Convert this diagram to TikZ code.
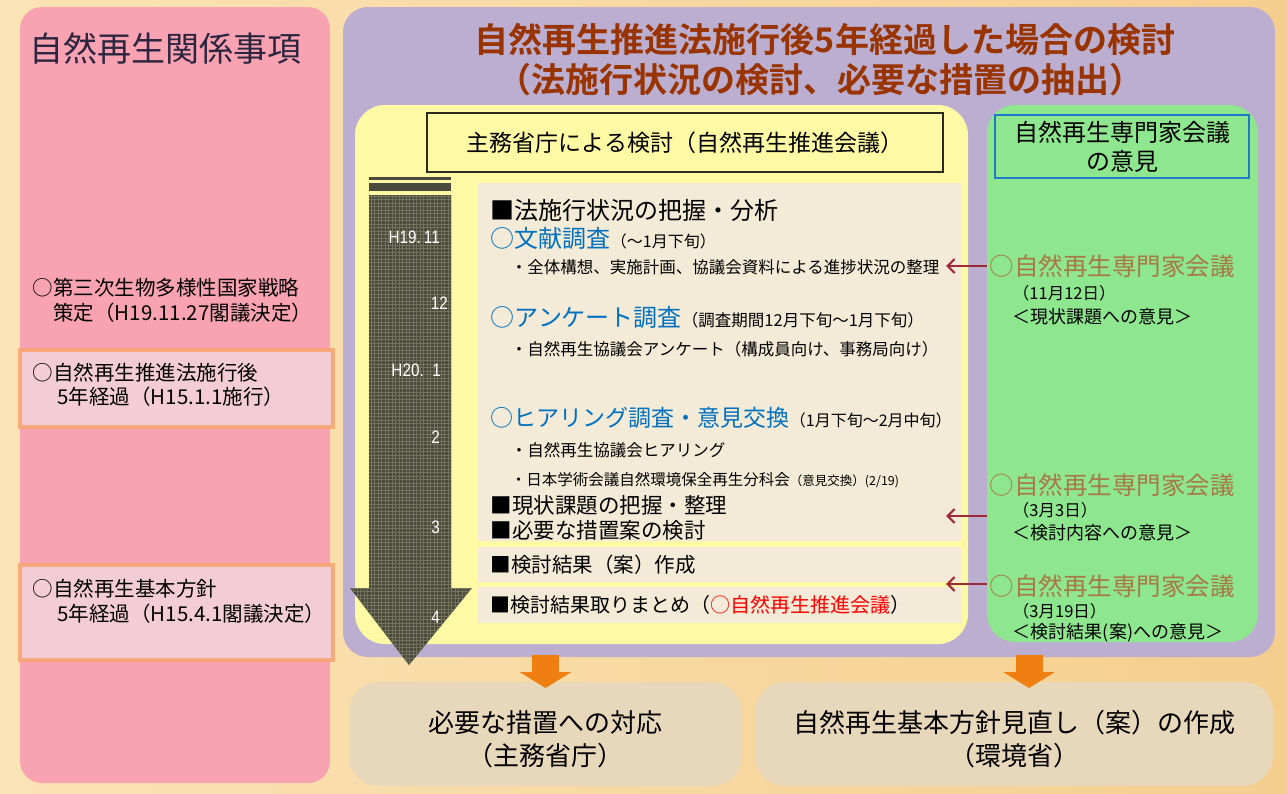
\documentclass[tikz,border=0pt]{standalone}
\usepackage{fontspec}
\setmainfont{Noto Sans CJK JP}[BoldFont={Noto Sans CJK JP Bold}]
\newfontfamily\numfont{Liberation Sans}[FakeStretch=0.85]
\usetikzlibrary{arrows.meta}

\definecolor{bgL}{HTML}{FAE3B5}
\definecolor{bgR}{HTML}{F5CE8E}
\definecolor{pinkP}{HTML}{F9A3B2}
\definecolor{pinkB}{HTML}{F3CCD5}
\definecolor{glow}{HTML}{F8A068}
\definecolor{purpleP}{HTML}{BBAED0}
\definecolor{yellowP}{HTML}{FDF9A4}
\definecolor{beigeB}{HTML}{F3EBD7}
\definecolor{greenP}{HTML}{8EE68E}
\definecolor{resB}{HTML}{E7D7BB}
\definecolor{titleC}{HTML}{993300}
\definecolor{navyT}{HTML}{2B2540}
\definecolor{blueT}{HTML}{0070C0}
\definecolor{tanT}{HTML}{A87848}
\definecolor{fbred}{HTML}{A02838}
\definecolor{orangeA}{HTML}{EF7F10}
\definecolor{darkA}{HTML}{4A4A3C}
\definecolor{gridA}{HTML}{74745E}
\definecolor{hdrline}{HTML}{2A2A20}
\definecolor{blueL}{HTML}{1E7AC8}

\newcommand{\fs}[1]{\fontsize{#1}{#1}\selectfont}
\newcommand{\fsl}[2]{\fontsize{#1}{#2}\selectfont}

\begin{document}
\begin{tikzpicture}[x=1pt,y=1pt,yscale=-1,xscale=1,
    box/.style={inner sep=0pt, outer sep=0pt, anchor=north west},
    txt/.style={anchor=west, inner sep=0.75pt, align=left},
    month/.style={anchor=east, inner sep=0pt, text=white, font=\numfont\fs{18}},
    fb/.style={draw=fbred, line width=2.2pt, -{Straight Barb[length=7pt,width=14pt]}},
    flow/.style={draw=orangeA, line width=27pt, -{Triangle[length=16pt,width=51pt]}}]

        %Shape: Background
        \shade [left color=bgL, right color=bgR] (0,0) rectangle (1287,793);
        \useasboundingbox (0,0) rectangle (1287,793);

        %Shape: Rounded Rect (left column)
        \node [box, fill=pinkP, rounded corners=22pt, minimum width=310pt, minimum height=776pt] (rel) at (20,7) {};
        %Shape: Rectangle
        \node [box, fill=pinkB, draw=glow, draw opacity=0.8, line width=3.5pt, minimum width=313pt, minimum height=77pt] (law) at (20,350) {};
        %Shape: Rectangle
        \node [box, fill=pinkB, draw=glow, draw opacity=0.8, line width=3.5pt, minimum width=313pt, minimum height=95pt] (policy) at (20,565) {};

        %Shape: Rounded Rect (review)
        \node [box, fill=purpleP, rounded corners=25pt, minimum width=932pt, minimum height=650pt] (review) at (343,7) {};
        %Shape: Rounded Rect (ministries)
        \node [box, fill=yellowP, rounded corners=30pt, minimum width=613pt, minimum height=539pt] (min) at (355,105) {};
        %Shape: Rectangle
        \node [box, fill=yellowP, draw=hdrline, line width=1.5pt, minimum width=516pt, minimum height=59pt] (minhd) at (427,113) {};
        %Shape: Rounded Rect (experts)
        \node [box, fill=greenP, rounded corners=28pt, minimum width=271pt, minimum height=537pt] (exp) at (987,105) {};
        %Shape: Rectangle
        \node [box, draw=blueL, line width=1.5pt, minimum width=254pt, minimum height=63pt] (exphd) at (995,115) {};

        %Shape: Rectangle (steps)
        \node [box, fill=beigeB, minimum width=483pt, minimum height=358pt] (stepA) at (478,183) {};
        \node [box, fill=beigeB, minimum width=483pt, minimum height=35pt] (stepB) at (478,547) {};
        \node [box, fill=beigeB, minimum width=483pt, minimum height=36pt] (stepC) at (478,587) {};

        %Shape: Rounded Rect (results)
        \node [box, fill=resB, rounded corners=30pt, minimum width=393pt, minimum height=104pt] (res1) at (349,682) {};
        \node [box, fill=resB, rounded corners=30pt, minimum width=518pt, minimum height=104pt] (res2) at (755,682) {};

        %Shape: Timeline Arrow
        \fill [darkA] (369,177) rectangle (451,180);
        \fill [darkA] (369,183) rectangle (451,191);
        \begin{scope}
        \clip (369,195) -- (451,195) -- (451,588) -- (472,588) -- (409,665) -- (350,588) -- (369,588) -- cycle;
        \fill [darkA] (340,190) rectangle (480,670);
        \draw [gridA, line width=0.4pt, step=3.5] (340,190) grid (480,670);
        \end{scope}

        % Text Node
        \draw (29,48) node [txt, text=navyT, font=\fs{34}] (reltl) {自然再生関係事項};
        % Text Node
        \draw (32,300) node [txt, font=\fsl{20.5}{25}] (strat) {○第三次生物多様性国家戦略\\\hspace*{1em}策定（H19.11.27閣議決定）};
        % Text Node
        \draw (32,385) node [txt, font=\fsl{20.5}{24}] (lawtx) {○自然再生推進法施行後\\\hspace*{1.2em}5年経過（H15.1.1施行）};
        % Text Node
        \draw (32,601) node [txt, font=\fsl{20.5}{25}] (poltx) {○自然再生基本方針\\\hspace*{1.2em}5年経過（H15.4.1閣議決定）};

        % Text Node
        \draw (825,40) node [inner sep=0pt, text=titleC, font=\fs{34}\bfseries] (title1) {自然再生推進法施行後5年経過した場合の検討};
        % Text Node
        \draw (820,80) node [inner sep=0pt, text=titleC, font=\fs{34}\bfseries] (title2) {（法施行状況の検討、必要な措置の抽出）};
        % Text Node
        \draw (minhd.center) node [inner sep=0pt, font=\fs{23}] (minhdtx) {主務省庁による検討（自然再生推進会議）};
        % Text Node
        \draw (exphd.center) node [inner sep=0pt, align=center, font=\fsl{24}{29}] (exphdtx) {自然再生専門家会議\\の意見};

        % Text Node
        \draw (490,210) node [txt] (s1) {\fs{24}■法施行状況の把握・分析};
        \draw (490,238) node [txt] (lit) {\fs{24}\textcolor{blueT}{○文献調査}\fs{16}（〜1月下旬）};
        \draw (510,267) node [txt] (lit1) {\fs{16.5}・全体構想、実施計画、協議会資料による進捗状況の整理};
        \draw (490,317) node [txt] (enq) {\fs{24}\textcolor{blueT}{○アンケート調査}\fs{16.5}（調査期間12月下旬〜1月下旬）};
        \draw (510,349) node [txt] (enq1) {\fs{16.5}・自然再生協議会アンケート（構成員向け、事務局向け）};
        \draw (490,418) node [txt] (hear) {\fs{23}\textcolor{blueT}{○ヒアリング調査・意見交換}\fs{16}（1月下旬〜2月中旬）};
        \draw (510,450) node [txt] (hear1) {\fs{16.5}・自然再生協議会ヒアリング};
        \draw (510,480) node [txt] (hear2) {\fs{15.5}・日本学術会議自然環境保全再生分科会\fs{12.5}（意見交換）(2/19)};
        \draw (490,505) node [txt] (s2) {\fs{21.5}■現状課題の把握・整理};
        \draw (490,530) node [txt] (s3) {\fs{21.5}■必要な措置案の検討};
        \draw (490,565) node [txt] (s4) {\fs{20.5}■検討結果（案）作成};
        \draw (490,605) node [txt] (s5) {\fs{20}■検討結果取りまとめ（\textcolor{red}{○自然再生推進会議}）};

        % Text Node
        \draw (440,237) node [month] (m1) {H19.\,11};
        \draw (448,303) node [month] (m2) {12};
        \draw (441,370) node [month] (m3) {H20.\ \ 1};
        \draw (440,437) node [month] (m4) {2};
        \draw (440,527) node [month] (m5) {3};
        \draw (440,617) node [month] (m6) {4};

        % Text Node
        \draw (989,266) node [txt, text=tanT] (e1) {\fs{24.5}○自然再生専門家会議};
        \draw (1012,293) node [txt] (e1d) {\fs{16.5}（11月12日）};
        \draw (1012,317) node [txt] (e1c) {\fs{18}＜現状課題への意見＞};
        \draw (989,485) node [txt, text=tanT] (e2) {\fs{24.5}○自然再生専門家会議};
        \draw (1012,510) node [txt] (e2d) {\fs{16.5}（3月3日）};
        \draw (1012,533) node [txt] (e2c) {\fs{18}＜検討内容への意見＞};
        \draw (989,586) node [txt, text=tanT] (e3) {\fs{24.5}○自然再生専門家会議};
        \draw (1012,611) node [txt] (e3d) {\fs{16.5}（3月19日）};
        \draw (1012,633) node [txt] (e3c) {\fs{18}＜検討結果(案)への意見＞};

        % Text Node
        \draw ([yshift=5pt]res1.center) node [inner sep=0pt, align=center, font=\fsl{26}{33}] (res1tx) {必要な措置への対応\\（主務省庁）};
        \draw ([yshift=5pt]res2.center) node [inner sep=0pt, align=center, font=\fsl{26}{33}] (res2tx) {自然再生基本方針見直し（案）の作成\\（環境省）};

        %Straight Lines
        \coordinate (t1) at (946,266);
        \coordinate (t2) at (946,516);
        \coordinate (t3) at (946,584);
        \draw [fb] (exp.west |- t1) -- (t1);
        \draw [fb] (exp.west |- t2) -- (t2);
        \draw [fb] (exp.west |- t3) -- (t3);

        %Block Arrows
        \draw [flow, shorten >=-6pt] ([yshift=-2pt]review.south -| res1.north) -- (res1.north);
        \draw [flow, shorten >=-6pt] ([xshift=15pt,yshift=-2pt]review.south -| res2.north) -- ([xshift=15pt]res2.north);

\end{tikzpicture}
\end{document}
